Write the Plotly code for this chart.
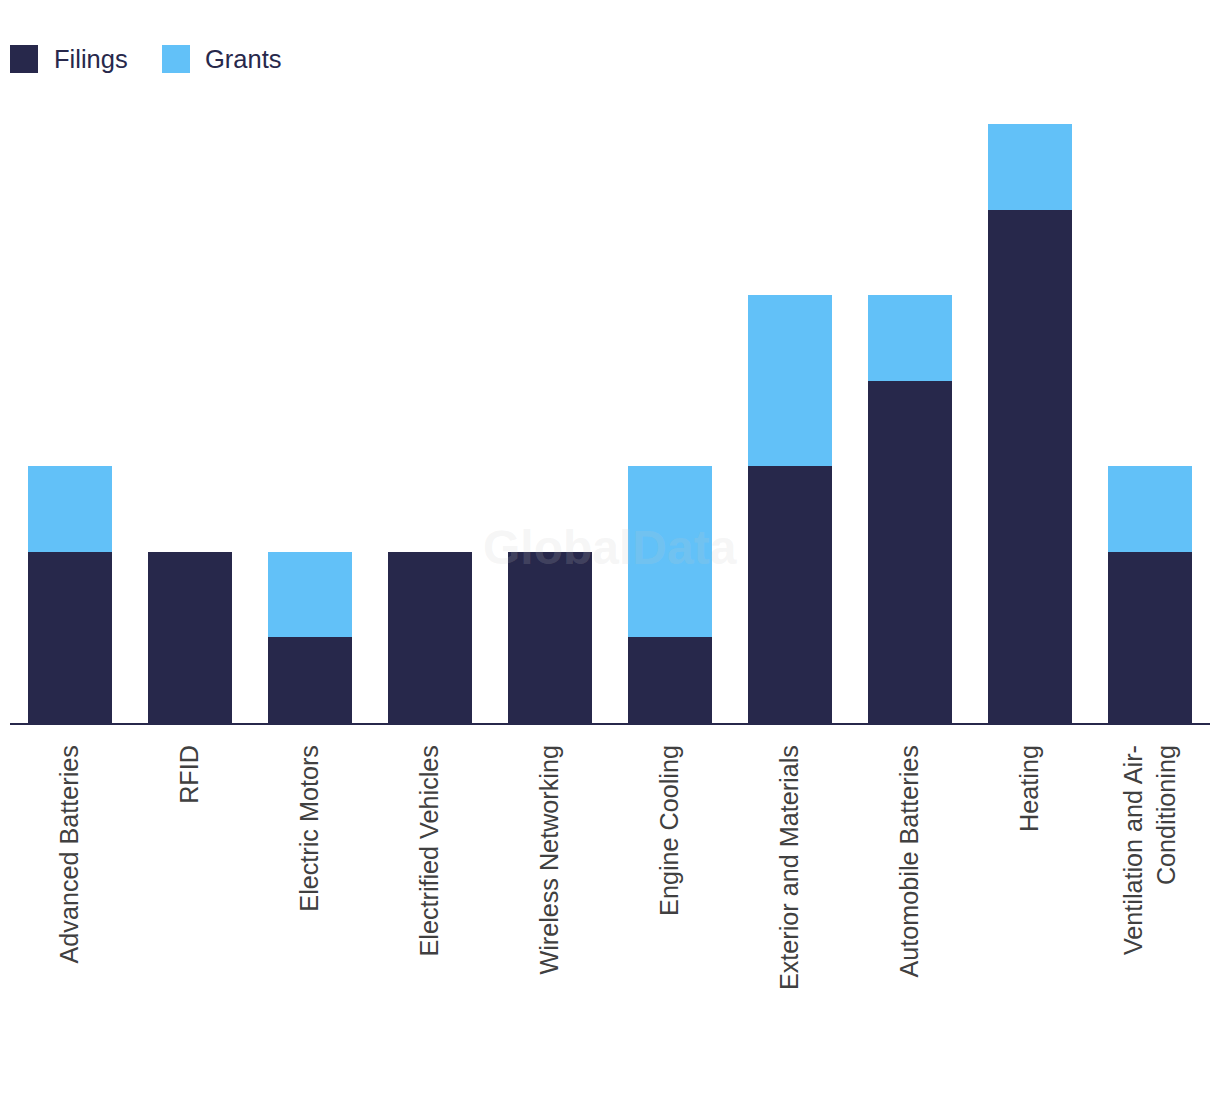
import plotly.graph_objects as go

categories = ["Advanced Batteries", "RFID", "Electric Motors", "Electrified Vehicles",
              "Wireless Networking", "Engine Cooling", "Exterior and Materials",
              "Automobile Batteries", "Heating", "Ventilation and Air-<br>Conditioning"]
filings = [2, 2, 1, 2, 2, 1, 3, 4, 6, 2]
grants = [1, 0, 1, 0, 0, 2, 2, 1, 1, 1]
series_names = ["Filings", "Grants"]
colors = ["#27284b", "#62c1f8"]

fig = go.Figure()
fig.add_trace(go.Bar(x=categories, y=filings, name=series_names[0], marker_color=colors[0],
                     marker_line_width=0, showlegend=False))
fig.add_trace(go.Bar(x=categories, y=grants, name=series_names[1], marker_color=colors[1],
                     marker_line_width=0, showlegend=False))

# page offset of 8px (body margin); plot area spans screen x 10..1210, y 124..723
OFF = 8
PW, PH = 1200, 599
PX0, PY1 = 10, 723

def px(x):
    return (x - PX0) / PW

def py(y):
    return (PY1 - y) / PH

# custom legend (large squares)
leg_x = [10, 162]
leg_text_x = [55, 206]
for i, (nm, c) in enumerate(zip(series_names, colors)):
    x0 = leg_x[i]
    fig.add_shape(type="rect", xref="paper", yref="paper",
                  x0=px(x0), x1=px(x0 + 28), y0=py(73), y1=py(45),
                  fillcolor=c, line_width=0)
    fig.add_annotation(xref="paper", yref="paper", x=px(leg_text_x[i]), y=py(59),
                       text=nm, showarrow=False, xanchor="left", yanchor="middle",
                       xshift=-3,
                       font=dict(size=25.5, color="#27284b", family="Liberation Sans"))

# watermark
fig.add_annotation(xref="paper", yref="paper", x=px(610), y=py(547), text="<b>GlobalData</b>",
                   showarrow=False, xanchor="center", yanchor="middle",
                   font=dict(size=48, color="rgba(200,200,200,0.18)", family="Liberation Sans"))

fig.update_layout(
    barmode="stack",
    bargap=0.3,
    width=1220, height=1094,
    margin=dict(l=PX0 - OFF, r=1220 - (PX0 + PW - OFF), t=124 - OFF, b=1094 - (PY1 - OFF)),
    plot_bgcolor="white", paper_bgcolor="white",
    font=dict(family="Liberation Sans", color="#333333"),
)
fig.update_xaxes(tickangle=-90, tickfont=dict(size=25.2, color="#404040"),
                 showline=True, linecolor="#27284b", linewidth=2,
                 ticks="", ticklabelstandoff=10, showgrid=False)
fig.update_yaxes(range=[0, 7], visible=False, showgrid=False)

fig.write_html("out.html")
